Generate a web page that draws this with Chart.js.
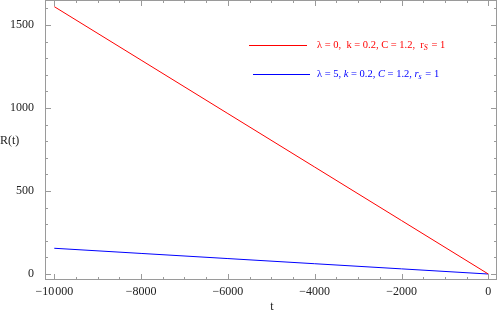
<!DOCTYPE html>
<html>
<head>
<meta charset="utf-8">
<script src="https://cdn.jsdelivr.net/npm/chart.js@4"></script>
<style>
  html, body { margin: 0; padding: 0; background: #fff; }
</style>
</head>
<body>
<canvas id="c" width="498" height="313"></canvas>
<script>
const tValues = [-10000, -8000, -6000, -4000, -2000, 0];
const redValues = [1610, 1288, 966, 644, 322, 0];
const blueValues = [155, 124, 93, 62, 31, 0];
const xTicks = [-10000, -8000, -6000, -4000, -2000, 0];
const yTicks = [0, 500, 1000, 1500];

const serif = '"Liberation Serif", "DejaVu Serif", serif';
const frameColor = '#9a9a9a';

function fmt(v) {
  let s = Math.abs(v).toString();
  if (Math.abs(v) >= 10000) s = s.slice(0, -3) + '\u200a' + s.slice(-3);
  return (v < 0 ? '\u2212' : '') + s;
}

// frame, inside ticks, axis titles, legend
const decor = {
  id: 'decor',
  afterDraw(chart) {
    const c = chart.ctx, a = chart.chartArea;
    const xs = chart.scales.x, ys = chart.scales.y;
    c.save();
    c.strokeStyle = frameColor;
    c.lineWidth = 1;
    c.strokeRect(a.left + 0.5, a.top + 0.5, a.right - a.left - 1, a.bottom - a.top - 1);
    c.beginPath();
    for (let v = -10000; v <= 0; v += 500) {
      const px = Math.round(xs.getPixelForValue(v)) + 0.5;
      const len = v % 2000 === 0 ? 6 : 3;
      c.moveTo(px, a.bottom); c.lineTo(px, a.bottom - len);
      c.moveTo(px, a.top); c.lineTo(px, a.top + len);
    }
    for (let v = 0; v <= 1600; v += 100) {
      const py = Math.round(ys.getPixelForValue(v)) + 0.5;
      const len = v % 500 === 0 ? 6 : 3;
      c.moveTo(a.left, py); c.lineTo(a.left + len, py);
      c.moveTo(a.right, py); c.lineTo(a.right - len, py);
    }
    c.stroke();

    c.fillStyle = '#222';
    c.font = '12px ' + serif;
    c.textBaseline = 'middle';
    c.textAlign = 'left';
    c.fillText('R(t)', 0, 141);
    c.textAlign = 'center';
    c.fillText('t', 272, 307);

    // legend
    c.lineWidth = 1;
    c.strokeStyle = '#ff0000';
    c.beginPath(); c.moveTo(249, 45.5); c.lineTo(307, 45.5); c.stroke();
    c.strokeStyle = '#0000ff';
    c.beginPath(); c.moveTo(253, 74.5); c.lineTo(310, 74.5); c.stroke();

    c.textAlign = 'left';
    const fs = 10.5;
    c.fillStyle = '#ff0000';
    let x = 317;
    const redText = '\u03bb = 0,  k = 0.2, C = 1.2,  r';
    c.font = fs + 'px ' + serif;
    c.fillText(redText, x, 45);
    x += c.measureText(redText).width;
    c.font = 'italic 8px ' + serif;
    c.fillText('S', x, 48);
    x += c.measureText('S').width + 1;
    c.font = fs + 'px ' + serif;
    c.fillText(' = 1', x, 45);

    c.fillStyle = '#0000ff';
    x = 317;
    const parts = [
      ['\u03bb', 'n'], [' = 5, ', 'n'], ['k', 'i'], [' = 0.2, ', 'n'],
      ['C', 'i'], [' = 1.2, ', 'n'], ['r', 'i']
    ];
    for (const [t, st] of parts) {
      c.font = (st === 'i' ? 'italic ' : '') + fs + 'px ' + serif;
      c.fillText(t, x, 74);
      x += c.measureText(t).width;
    }
    c.font = 'italic 8px ' + serif;
    c.fillText('s', x, 77);
    x += c.measureText('s').width + 1;
    c.font = fs + 'px ' + serif;
    c.fillText(' = 1', x, 74);
    c.restore();
  }
};

new Chart(document.getElementById('c'), {
  type: 'line',
  data: {
    labels: tValues,
    datasets: [
      { data: tValues.map((t, i) => ({ x: t, y: redValues[i] })), borderColor: '#ff0000', borderWidth: 1, pointRadius: 0, tension: 0 },
      { data: tValues.map((t, i) => ({ x: t, y: blueValues[i] })), borderColor: '#0000ff', borderWidth: 1, pointRadius: 0, tension: 0 }
    ]
  },
  options: {
    responsive: false,
    animation: false,
    devicePixelRatio: 1,
    layout: { padding: { top: 0, right: 1, left: 0, bottom: 0 } },
    plugins: { legend: { display: false }, tooltip: { enabled: false } },
    scales: {
      x: {
        type: 'linear', min: -10214, max: 200,
        afterFit(s) { s.height = 33; s.paddingLeft = 0; s.paddingRight = 0; },
        afterBuildTicks(s) { s.ticks = xTicks.map(v => ({ value: v })); },
        grid: { display: false }, border: { display: false },
        ticks: { color: '#222', padding: -3, maxRotation: 0, font: { family: serif, size: 12 }, callback: v => fmt(v) }
      },
      y: {
        type: 'linear', min: -36, max: 1650,
        afterFit(s) { s.width = 45; s.paddingTop = 0; s.paddingBottom = 0; },
        afterBuildTicks(s) { s.ticks = yTicks.map(v => ({ value: v })); },
        grid: { display: false }, border: { display: false },
        ticks: { color: '#222', padding: 3, font: { family: serif, size: 12 }, callback: v => fmt(v) }
      }
    }
  },
  plugins: [decor]
});
</script>
</body>
</html>
